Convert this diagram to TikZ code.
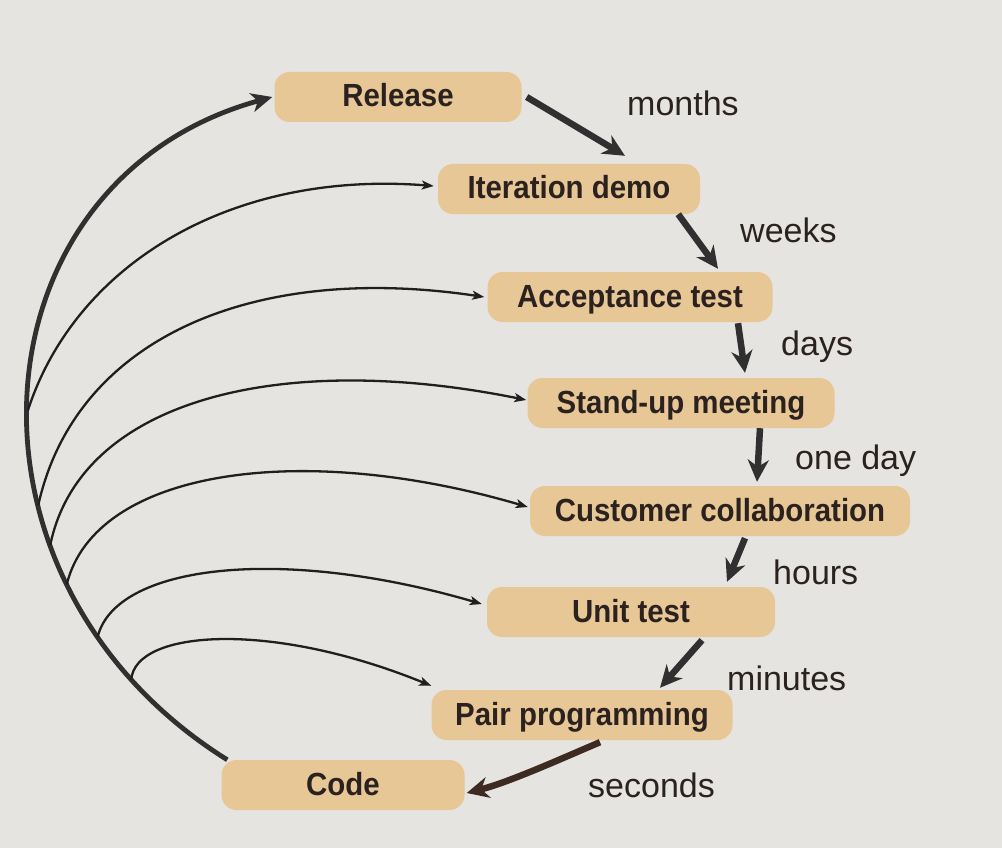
\documentclass[tikz,border=0pt]{standalone}
\usepackage{fontspec}
\setmainfont{Liberation Sans}
\newfontfamily\boxfont{Liberation Sans}[FakeStretch=0.92]
\usetikzlibrary{arrows.meta,calc}
\definecolor{paper}{HTML}{E5E4E0}
\definecolor{tan}{HTML}{E8C796}
\definecolor{ink}{HTML}{2B2220}
\definecolor{arrowgray}{HTML}{303030}
\definecolor{arrowbrown}{HTML}{3D2A22}
\begin{document}
\begin{tikzpicture}[x=1pt,y=-1pt,
  stage/.style={draw=none,fill=tan,rounded corners=15pt,inner sep=0pt,
    minimum height=50pt,text=ink,text height=24pt,text depth=4pt,
    font=\boxfont\bfseries\fontsize{32}{32}\selectfont},
  span/.style={anchor=base west,inner sep=0pt,text=ink,
    font=\fontsize{34}{34}\selectfont},
  chain/.style={line width=6.5pt,draw=arrowgray,
    -{Stealth[length=22pt,width=21pt,inset=7pt]}},
  loop/.style={line width=4.8pt,draw=arrowgray,
    -{Stealth[length=21pt,width=19pt,inset=6pt]}},
  feed/.style={line width=2.3pt,draw=black!88,
    -{Stealth[length=12pt,width=9pt,inset=3pt]}}]

% paper and page frame
\fill[paper] (0,0) rectangle (1002,848);
\useasboundingbox (0,0) rectangle (1002,848);

% stages, from slowest to fastest feedback
\node[stage,minimum width=247pt] (rel)  at (398,97)  {Release};
\node[stage,minimum width=262pt] (itd)  at (569,189) {Iteration demo};
\node[stage,minimum width=285pt] (acc)  at (630,297) {Acceptance test};
\node[stage,minimum width=307pt] (sup)  at (681,403) {Stand-up meeting};
\node[stage,minimum width=380pt] (cus)  at (720,511) {Customer collaboration};
\node[stage,minimum width=288pt] (unt)  at (631,612) {Unit test};
\node[stage,minimum width=301pt] (pp)   at (582,715) {Pair programming};
\node[stage,minimum width=243pt] (code) at (343,785) {Code};

% time scales
\node[span] (l1) at (627,116) {months};
\node[span] (l2) at (740,242) {weeks};
\node[span] (l3) at (781,355) {days};
\node[span] (l4) at (795,469) {one day};
\node[span] (l5) at (773,584) {hours};
\node[span] (l6) at (727,690) {minutes};
\node[span] (l7) at (588,797) {seconds};

% downward chain of stages
\draw[chain] ($(rel.east)+(5,0)$) -- ($(itd.north)+(56,-8)$);
\draw[chain] ($(itd.south east)+(-22,0)$) -- ($(acc.north)+(88,-3)$);
\draw[chain] ($(acc.south)+(108,1)$) -- ($(sup.north)+(64,-5)$);
\draw[chain] ($(sup.south)+(79,0)$) -- ($(cus.north)+(37,-4)$);
\draw[chain] ($(cus.south)+(25,2)$) -- ($(unt.north)+(96,-5)$);
\draw[chain] ($(unt.south)+(71,3)$) -- ($(pp.north)+(78,-2)$);
\draw[chain,draw=arrowbrown] ($(pp.south)+(18,2)$)
  .. controls (565,757) and (510,782) .. ($(code.east)+(2,8)$);

% big loop from code back to release
\draw[loop] ($(code.north west)+(6,0)$)
  .. controls (-60,580) and (-30,180) .. ($(rel.west)+(-2,0)$)
  coordinate[pos=0.477] (s1)
  coordinate[pos=0.36]  (s2)
  coordinate[pos=0.31]  (s3)
  coordinate[pos=0.26]  (s4)
  coordinate[pos=0.19]  (s5)
  coordinate[pos=0.13]  (s6);

% feedback branches off the loop
\draw[feed] (s1) .. controls (75,265) and (230,170) .. ($(itd.west)+(-4,-3)$);
\draw[feed] (s2) .. controls (75,340) and (250,262) .. ($(acc.west)+(-3,0)$);
\draw[feed] (s3) .. controls (80,400) and (280,350) .. ($(sup.west)+(-1,-3)$);
\draw[feed] (s4) .. controls (95,470) and (300,440) .. ($(cus.west)+(-2,-4)$);
\draw[feed] (s5) .. controls (115,565) and (280,545) .. ($(unt.west)+(-5,-8)$);
\draw[feed] (s6) .. controls (135,630) and (270,620) .. ($(pp.north west)+(0,-4)$);
\end{tikzpicture}
\end{document}
